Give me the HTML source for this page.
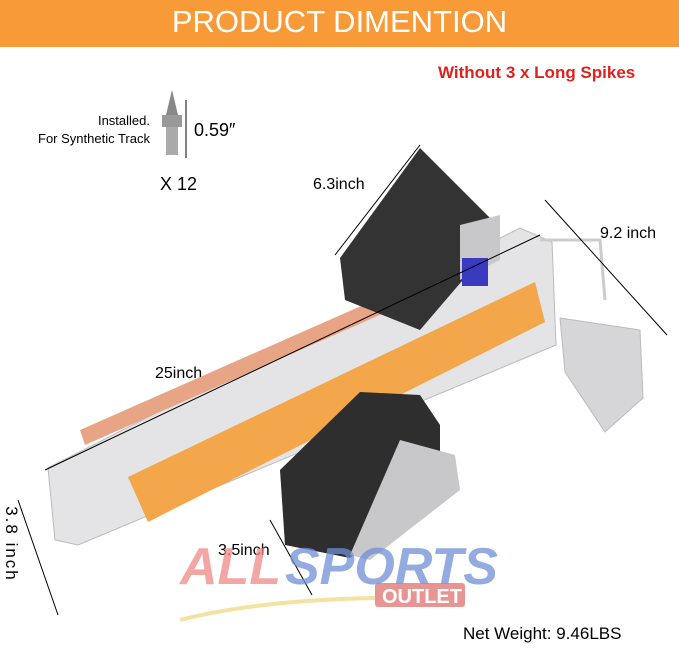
<!DOCTYPE html>
<html><head><style>
body{margin:0;width:679px;height:651px;background:#fff;overflow:hidden;font-family:"Liberation Sans",sans-serif;position:relative}
.t{position:absolute;white-space:nowrap}
</style></head><body>
<div style="position:absolute;left:0;top:0;width:679px;height:47px;background:#f89a37"></div>
<div class="t" style="left:0;width:679px;top:4px;text-align:center;color:#fff;font-size:31px">PRODUCT DIMENTION</div>
<div class="t" style="left:438px;top:63px;color:#e0221e;font-size:17px;font-weight:bold">Without 3 x Long Spikes</div>
<div class="t" style="left:20px;top:112px;width:130px;text-align:right;font-size:13px;line-height:18px">Installed.<br>For Synthetic Track</div>
<div class="t" style="left:194px;top:120px;font-size:18px">0.59″</div>
<div class="t" style="left:160px;top:174px;font-size:18px">X 12</div>
<div class="t" style="left:313px;top:176px;font-size:16px">6.3inch</div>
<div class="t" style="left:600px;top:225px;font-size:16px">9.2 inch</div>
<div class="t" style="left:155px;top:365px;font-size:16px">25inch</div>
<div class="t" style="left:218px;top:542px;font-size:16px">3.5inch</div>
<div class="t" style="left:-34px;top:534px;font-size:17px;letter-spacing:2px;transform:rotate(90deg);width:90px;text-align:center">3.8 inch</div>
<div class="t" style="left:463px;top:624px;font-size:17px">Net Weight: 9.46LBS</div>
<svg width="679" height="651" style="position:absolute;left:0;top:0">
<polygon points="166,115 172,90 178,115" fill="#888"/>
<rect x="162" y="115" width="20" height="12" fill="#999"/>
<rect x="166" y="127" width="12" height="28" fill="#aaa"/>
<line x1="186" y1="100" x2="186" y2="158" stroke="#000"/>
<polygon points="48,468 520,228 552,242 556,345 78,545 55,540" fill="#e4e4e6" stroke="#bbb"/>
<polygon points="560,318 640,330 643,398 605,432 565,372" fill="#d6d6d8" stroke="#bbb"/>
<path d="M540,240 L600,240 L605,300" stroke="#ccc" stroke-width="3" fill="none"/>
<polygon points="128,477 535,282 545,322 148,522" fill="#f4a64a"/>
<polygon points="80,430 420,280 425,295 85,445" fill="#e8a585"/>
<polygon points="340,258 420,148 490,218 480,260 420,330 345,300" fill="#333"/>
<polygon points="460,225 500,215 500,260 460,280" fill="#c8c8ca"/>
<rect x="462" y="258" width="26" height="28" fill="#3a3ac0"/>
<polygon points="280,470 360,392 420,395 440,425 440,490 350,558 285,545" fill="#2e2e2e"/>
<polygon points="400,440 455,455 460,490 370,560 350,555" fill="#c8c8ca"/>
<line x1="335" y1="255" x2="420" y2="145" stroke="#000"/>
<line x1="545" y1="200" x2="667" y2="335" stroke="#000"/>
<line x1="45" y1="470" x2="540" y2="235" stroke="#000"/>
<line x1="18" y1="500" x2="58" y2="615" stroke="#000"/>
<line x1="270" y1="520" x2="312" y2="595" stroke="#000"/>
<text x="180" y="584" font-family="Liberation Sans" font-weight="bold" font-style="italic" font-size="52" fill="#f08a88" opacity="0.75">ALL</text>
<text x="285" y="584" font-family="Liberation Sans" font-weight="bold" font-style="italic" font-size="52" fill="#6f8fd8" opacity="0.75">SPORTS</text>
<rect x="375" y="583" width="90" height="24" rx="3" fill="#e07a78" opacity="0.8"/>
<text x="382" y="603" font-family="Liberation Sans" font-weight="bold" font-size="20" fill="#fff">OUTLET</text>
<path d="M180,620 Q260,600 375,598" stroke="#f3e2a0" stroke-width="4" fill="none"/>
</svg>
</body></html>
